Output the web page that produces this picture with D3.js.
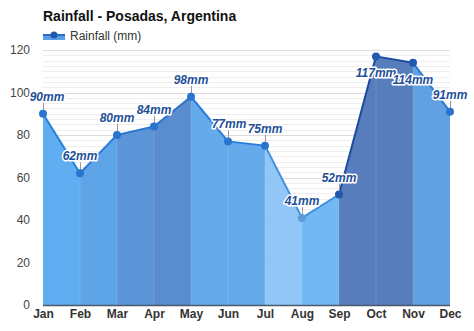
<!DOCTYPE html>
<html>
<head>
<meta charset="utf-8">
<script src="https://cdn.jsdelivr.net/npm/d3@7"></script>
<style>
  html, body { margin: 0; padding: 0; background: #fff; }
  svg { display: block; font-family: "Liberation Sans", Arial, sans-serif; }
</style>
</head>
<body>
<svg id="chart" width="474" height="331"></svg>
<script>
// Monthly rainfall for Posadas
const months = ["Jan", "Feb", "Mar", "Apr", "May", "Jun", "Jul", "Aug", "Sep", "Oct", "Nov", "Dec"];
const rainfall = [90, 62, 80, 84, 98, 77, 75, 41, 52, 117, 114, 91];
const yTicks = [0, 20, 40, 60, 80, 100, 120];

// Fill shade of each band between consecutive months
const bandFill = ["#5aaaf0", "#57a1e6", "#5491d6", "#5388cc", "#5fa8eb", "#5fa8eb",
                  "#8dc4f6", "#6cb5f4", "#5078ba", "#5078ba", "#5b9de2"];
const bandLine = ["#2a7dd8", "#2a7dd8", "#2a78d2", "#2a72cb", "#2a7dd8", "#2a7dd8",
                  "#3f8fe0", "#3f8fe0", "#1c4c9e", "#1c4c9e", "#2a78d2"];

const svg = d3.select("#chart");
const x = d3.scalePoint().domain(months).range([43, 450]);
const y = d3.scaleLinear().domain([0, 120]).range([305, 50]);

// Grid: fine lines every 2.5 units, slightly stronger every 20
const fine = d3.range(0, 120.01, 2.5);
svg.append("g").selectAll("line").data(fine).join("line")
  .attr("x1", x("Jan")).attr("x2", x("Dec"))
  .attr("y1", d => Math.round(y(d)) + 0.5).attr("y2", d => Math.round(y(d)) + 0.5)
  .attr("stroke", d => d % 20 === 0 ? "#dcdcdc" : "#eeeeee")
  .attr("stroke-width", 1);

// Area bands
const pts = months.map((m, i) => ({ m, v: rainfall[i], i }));
const area = d3.area().x(d => x(d.m)).y0(y(0)).y1(d => y(d.v));
const line = d3.line().x(d => x(d.m)).y(d => y(d.v));
const bands = d3.range(months.length - 1).map(i => [pts[i], pts[i + 1]]);

svg.append("g").selectAll("path").data(bands).join("path")
  .attr("d", area)
  .attr("fill", (d, i) => bandFill[i])
  .attr("fill-opacity", 0.96);

// Faint dividers between bands
svg.append("g").selectAll("line").data(pts.slice(1, -1)).join("line")
  .attr("x1", d => x(d.m)).attr("x2", d => x(d.m))
  .attr("y1", d => y(d.v)).attr("y2", y(0))
  .attr("stroke", "#ffffff").attr("stroke-opacity", 0.12);

// Line segments
svg.append("g").selectAll("path").data(bands).join("path")
  .attr("d", line)
  .attr("fill", "none")
  .attr("stroke", (d, i) => bandLine[i])
  .attr("stroke-width", 2);

// Bottom axis line
svg.append("line")
  .attr("x1", x("Jan")).attr("x2", x("Dec"))
  .attr("y1", y(0) + 0.5).attr("y2", y(0) + 0.5)
  .attr("stroke", "#4a5a6a").attr("stroke-width", 1.5);

// Y axis labels
const yAxis = d3.axisLeft(y).tickValues(yTicks).tickSize(0).tickPadding(0);
const gy = svg.append("g").attr("transform", "translate(30,0)").call(yAxis);
gy.select(".domain").remove();
gy.selectAll("text").attr("font-size", 12).attr("fill", "#444").attr("font-family", "Liberation Sans, Arial, sans-serif");

// X axis labels
const xAxis = d3.axisBottom(x).tickSize(0).tickPadding(0);
const gx = svg.append("g").attr("transform", "translate(0,309)").call(xAxis);
gx.select(".domain").remove();
gx.selectAll("text").attr("font-size", 12).attr("font-weight", "bold").attr("fill", "#333")
  .attr("font-family", "Liberation Sans, Arial, sans-serif");

// Value labels: above the point, except where the curve reaches the top
const below = new Set(["Oct", "Nov"]);
const lab = svg.append("g");
pts.forEach(d => {
  const px = x(d.m), py = y(d.v);
  const isBelow = below.has(d.m);
  const ty = isBelow ? py + 21 : py - 13;
  if (!isBelow) {
    lab.append("line")
      .attr("x1", px + 0.5).attr("x2", px + 0.5)
      .attr("y1", ty + 2).attr("y2", py)
      .attr("stroke", "#999").attr("stroke-width", 1);
  }
});

// Markers
svg.append("g").selectAll("circle").data(pts).join("circle")
  .attr("cx", d => x(d.m)).attr("cy", d => y(d.v)).attr("r", 4)
  .attr("fill", d => d.m === "Aug" ? "#5d9ad8" : (below.has(d.m) || d.m === "Sep" ? "#2158b0" : "#2a74cf"));

pts.forEach(d => {
  const px = x(d.m), py = y(d.v);
  const isBelow = below.has(d.m);
  const ty = isBelow ? py + 21 : py - 13;
  let dx = 0;
  if (d.m === "Jan") dx = 4;
  if (d.m === "Jun") dx = 1;
  lab.append("text")
    .attr("x", px + dx).attr("y", ty)
    .attr("text-anchor", "middle")
    .attr("font-size", 12).attr("font-weight", "bold").attr("font-style", "italic")
    .attr("fill", "#1f4f98")
    .attr("stroke", "#ffffff").attr("stroke-width", 3).attr("stroke-linejoin", "round")
    .attr("paint-order", "stroke")
    .text(d.v + "mm");
});

// Title
svg.append("text").attr("x", 43).attr("y", 21)
  .attr("font-size", 14).attr("font-weight", "bold").attr("fill", "#111")
  .text("Rainfall - Posadas, Argentina");

// Legend
const lg = svg.append("g");
lg.append("rect").attr("x", 43).attr("y", 35).attr("width", 22).attr("height", 5).attr("fill", "#5a9ee6");
lg.append("line").attr("x1", 43).attr("x2", 65).attr("y1", 35).attr("y2", 35)
  .attr("stroke", "#2a6cc8").attr("stroke-width", 2);
lg.append("circle").attr("cx", 54).attr("cy", 35).attr("r", 3.5).attr("fill", "#2158b0");
lg.append("text").attr("x", 70).attr("y", 40).attr("font-size", 12).attr("fill", "#333")
  .text("Rainfall (mm)");
</script>
</body>
</html>
